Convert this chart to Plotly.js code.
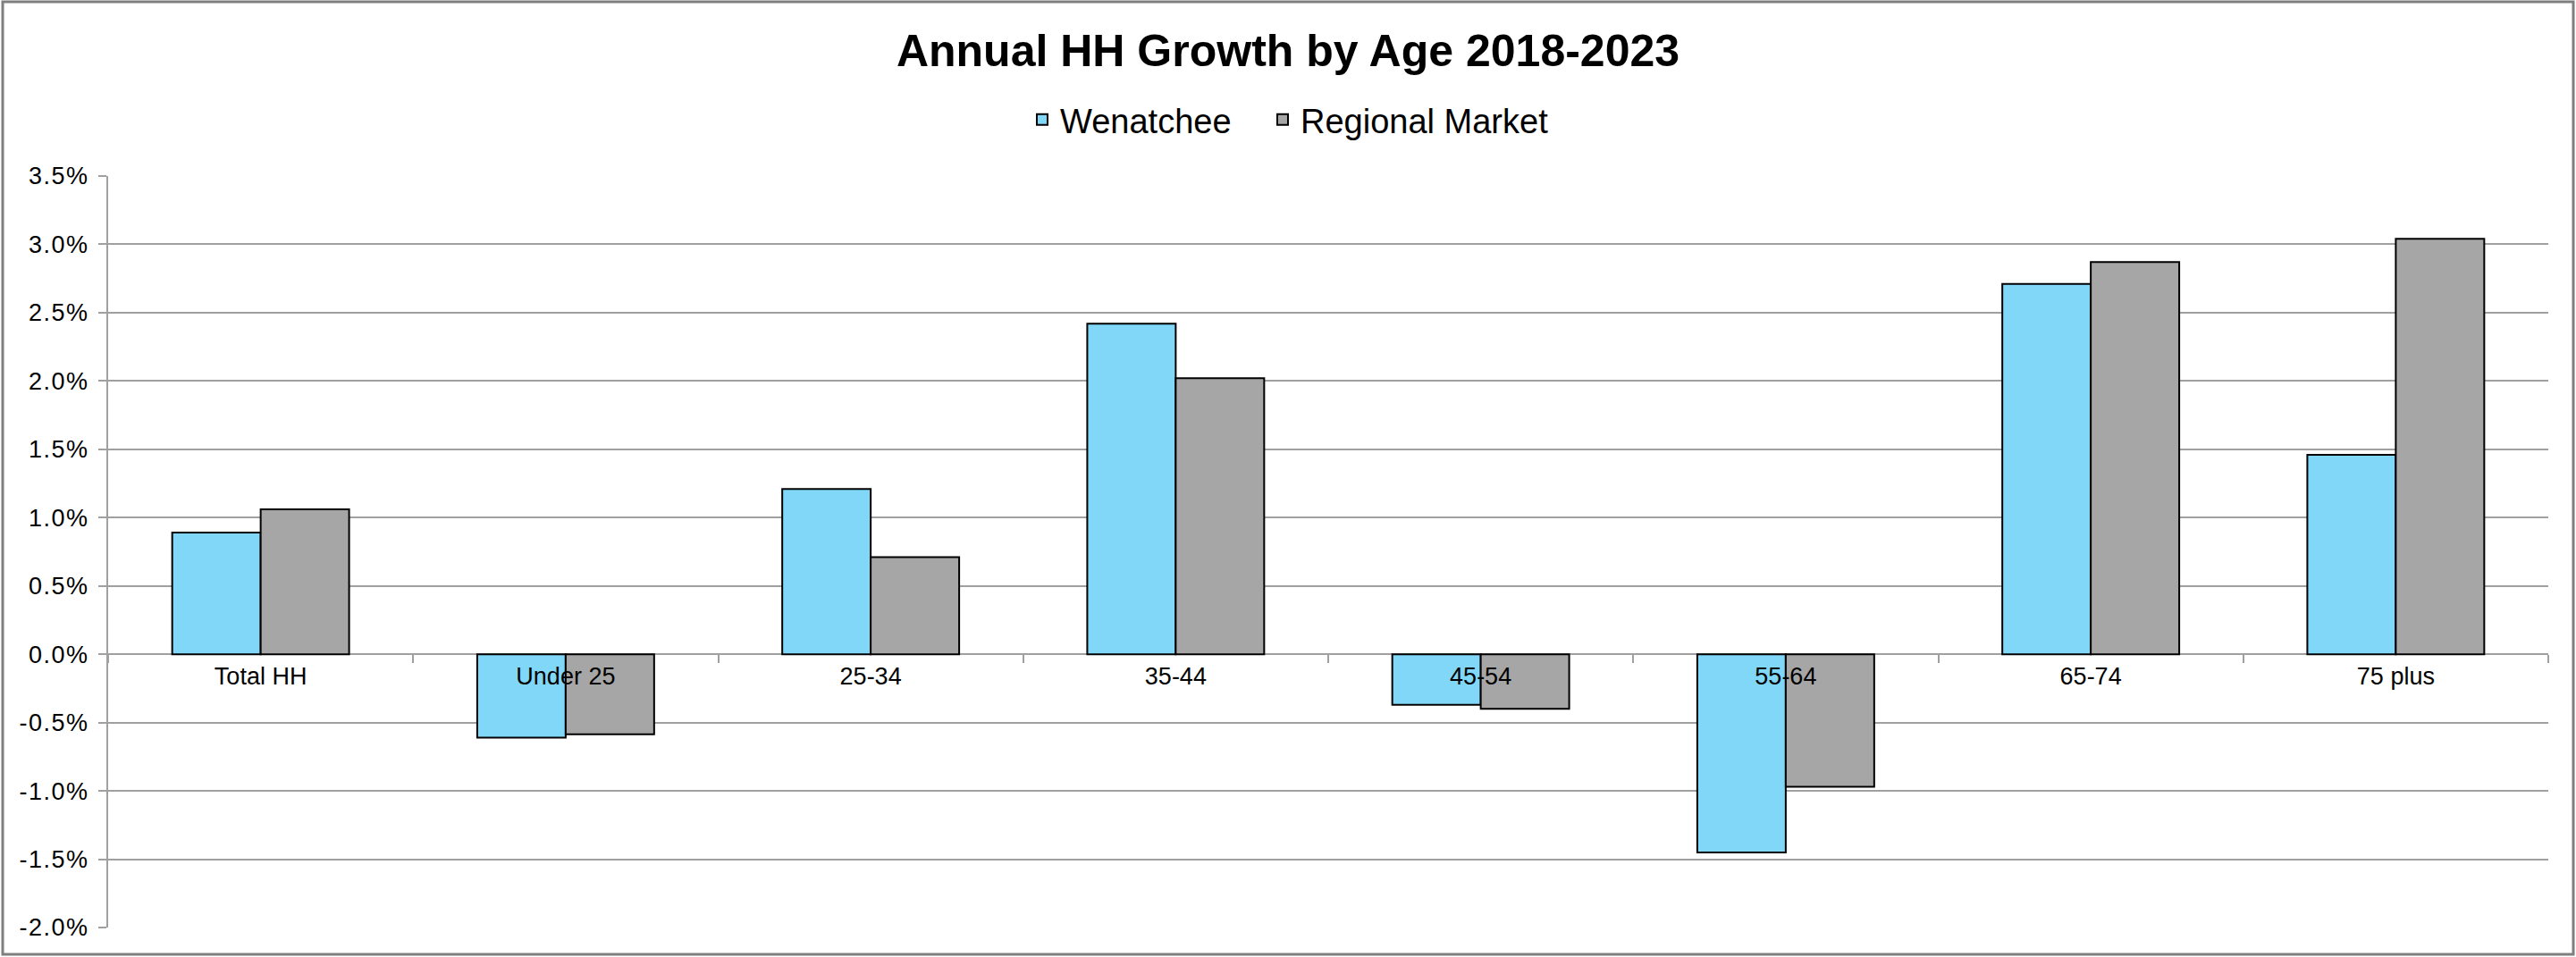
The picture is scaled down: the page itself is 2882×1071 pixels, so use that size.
<!DOCTYPE html>
<html>
<head>
<meta charset="utf-8">
<script src="https://cdn.plot.ly/plotly-3.0.1.min.js"></script>
<style>
  html, body { margin: 0; padding: 0; background: #fff; }
  #chart { width: 2882px; height: 1071px; }
  .ytick text { letter-spacing: 1.5px; }
</style>
</head>
<body>
<div id="chart"></div>
<script>
// ---- data ----
const categories = ["Total HH", "Under 25", "25-34", "35-44", "45-54", "55-64", "65-74", "75 plus"];
const wenatchee = [0.89, -0.61, 1.21, 2.42, -0.37, -1.45, 2.71, 1.46];
const regionalMarket = [1.06, -0.585, 0.71, 2.02, -0.40, -0.97, 2.87, 3.04];
const seriesNames = ["Wenatchee", "Regional Market"];
const chartTitle = "Annual HH Growth by Age 2018-2023";
const yTickVals = [-2.0, -1.5, -1.0, -0.5, 0.0, 0.5, 1.0, 1.5, 2.0, 2.5, 3.0, 3.5];
const yTickText = ["-2.0%", "-1.5%", "-1.0%", "-0.5%", "0.0%", "0.5%", "1.0%", "1.5%", "2.0%", "2.5%", "3.0%", "3.5%"];

// ---- layout constants ----
const W = 2882, H = 1071;
const M = { l: 121, r: 31, t: 197, b: 33, autoexpand: false };
const yRange = [-2, 3.5];
const plotW = W - M.l - M.r, plotH = H - M.t - M.b;
const zeroPos = (0 - yRange[0]) / (yRange[1] - yRange[0]);
const gridColor = "#a0a0a0";
const fontFam = "Liberation Sans, Arial, sans-serif";

const traces = [
  {
    type: "bar", name: seriesNames[0], x: categories, y: wenatchee,
    legendwidth: 224,
    marker: { color: "#80d7f8", line: { color: "#000000", width: 2 } }
  },
  {
    type: "bar", name: seriesNames[1], x: categories, y: regionalMarket,
    marker: { color: "#a6a6a6", line: { color: "#000000", width: 2 } }
  }
];

const layout = {
  width: W, height: H,
  margin: M,
  paper_bgcolor: "#ffffff", plot_bgcolor: "#ffffff",
  font: { family: fontFam, color: "#000000" },
  title: {
    text: chartTitle,
    font: { family: fontFam, size: 50, weight: "bold", color: "#000" },
    x: 0.5, xanchor: "center", xref: "container",
    y: 1 - 56 / H, yanchor: "middle", yref: "container"
  },
  showlegend: true,
  legend: {
    orientation: "h", x: (1146 - M.l) / plotW, xanchor: "left", xref: "paper",
    y: (H - M.b - 134) / plotH, yanchor: "middle", yref: "paper",
    font: { size: 38, family: fontFam },
    itemsizing: "constant", traceorder: "normal", itemwidth: 30
  },
  barmode: "group",
  bargap: 0.42,
  bargroupgap: 0,
  xaxis: {
    type: "category",
    anchor: "free", position: zeroPos,
    showgrid: false, zeroline: false, showline: false,
    ticks: "outside", tickson: "boundaries", ticklen: 9, tickwidth: 2, tickcolor: gridColor,
    tickfont: { size: 27, family: fontFam },
    ticklabelstandoff: 6,
    fixedrange: true
  },
  yaxis: {
    range: yRange,
    tickmode: "array", tickvals: yTickVals, ticktext: yTickText,
    showgrid: true, gridcolor: gridColor, gridwidth: 2,
    zeroline: false,
    showline: true, linecolor: gridColor, linewidth: 2,
    ticks: "outside", ticklen: 9, tickwidth: 2, tickcolor: gridColor,
    tickfont: { size: 27, family: fontFam },
    ticklabelstandoff: 5,
    fixedrange: true
  },
  shapes: [
    {
      type: "rect", xref: "paper", yref: "paper", layer: "above",
      x0: (3 - M.l) / plotW, x1: (W - 3 - M.l) / plotW,
      y0: (H - M.b - (H - 3)) / plotH, y1: (H - M.b - 2) / plotH,
      line: { color: "#7f7f7f", width: 3 }, fillcolor: "rgba(0,0,0,0)"
    }
  ]
};

Plotly.newPlot("chart", traces, layout, { displayModeBar: false, staticPlot: true });
</script>
</body>
</html>
